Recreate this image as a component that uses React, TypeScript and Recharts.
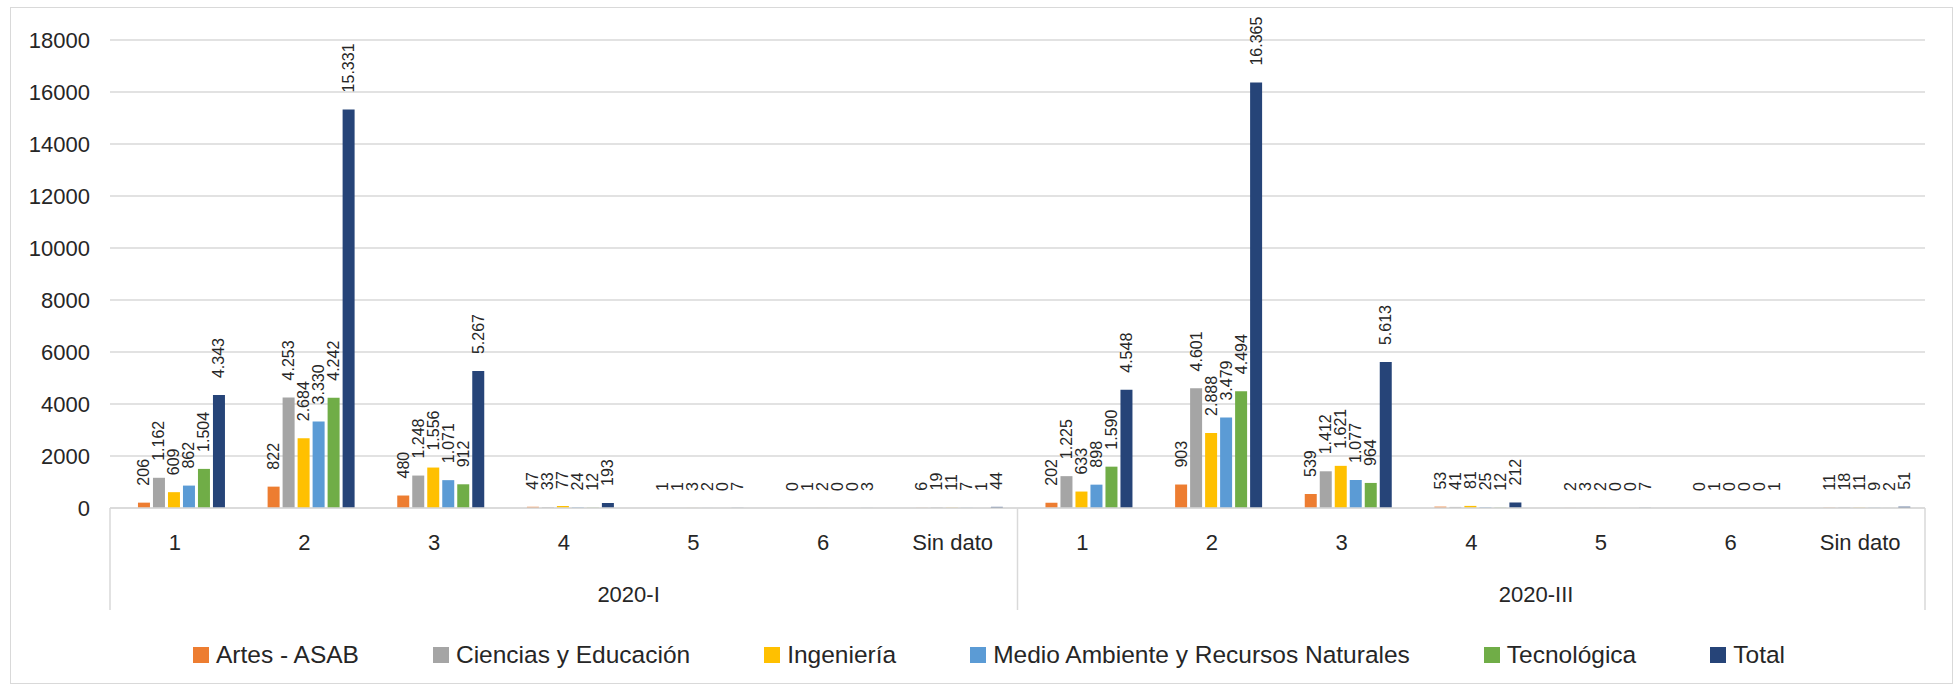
import React from "react";
import {
  BarChart,
  Bar,
  XAxis,
  YAxis,
  CartesianGrid,
  Legend,
  LabelList,
} from "recharts";

const categories = ["1", "2", "3", "4", "5", "6", "Sin dato"];
const periods = ["2020-I", "2020-III"];

// values per period: 2020-I first, then 2020-III
const artes = [206, 822, 480, 47, 1, 0, 6, 202, 903, 539, 53, 2, 0, 11];
const ciencias = [1162, 4253, 1248, 33, 1, 1, 19, 1225, 4601, 1412, 41, 3, 1, 18];
const ingenieria = [609, 2684, 1556, 77, 3, 2, 11, 633, 2888, 1621, 81, 2, 0, 11];
const medio = [862, 3330, 1071, 24, 2, 0, 7, 898, 3479, 1077, 25, 0, 0, 9];
const tecnologica = [1504, 4242, 912, 12, 0, 0, 1, 1590, 4494, 964, 12, 0, 0, 2];
const total = [4343, 15331, 5267, 193, 7, 3, 44, 4548, 16365, 5613, 212, 7, 1, 51];

const yTicks = [0, 2000, 4000, 6000, 8000, 10000, 12000, 14000, 16000, 18000];

const rows = periods.flatMap((period, pi) =>
  categories.map((cat, ci) => {
    const i = pi * categories.length + ci;
    return {
      cat,
      period,
      artes: artes[i],
      ciencias: ciencias[i],
      ingenieria: ingenieria[i],
      medio: medio[i],
      tecnologica: tecnologica[i],
      total: total[i],
    };
  })
);

const W = 1955;
const H = 686;
const FONT = "'Liberation Sans', Arial, sans-serif";
const TEXT = "#262626";
const LINE = "#D9D9D9";
const PLOT_W = 1925 - 110;
const BAND = PLOT_W / rows.length;

const fmt = (v: number) => String(v).replace(/\B(?=(\d{3})+(?!\d))/g, ".");

// keep zero bars in the rect list so their "0" label is drawn
const keepZero = (value: any) => (value === 0 ? 0.001 : 0);

const ValueLabel = (props: any) => {
  const { x, y, width, value } = props;
  if (value == null) return null;
  const cx = Number(x) + Number(width) / 2;
  const ty = Number(y) - 17;
  return (
    <text
      x={cx}
      y={ty}
      transform={`rotate(-90 ${cx} ${ty})`}
      textAnchor="start"
      dominantBaseline="central"
      fontSize={16}
      fill={TEXT}
    >
      {fmt(value)}
    </text>
  );
};

const CategoryTick = (props: any) => {
  const { x, y, payload, index } = props;
  const half = BAND / 2;
  const top = y - 8;
  return (
    <g>
      <text
        x={x}
        y={top + 34}
        textAnchor="middle"
        dominantBaseline="central"
        fontSize={22}
        fill={TEXT}
      >
        {payload.value}
      </text>
      {index % categories.length === 0 && (
        <line x1={x - half} x2={x - half} y1={top} y2={top + 102} stroke={LINE} strokeWidth={1.5} />
      )}
      {index === rows.length - 1 && (
        <line x1={x + half} x2={x + half} y1={top} y2={top + 102} stroke={LINE} strokeWidth={1.5} />
      )}
    </g>
  );
};

const PeriodTick = (props: any) => {
  const { x, y, payload, index } = props;
  if (index % categories.length !== 3) return null;
  return (
    <text
      x={x + BAND / 2}
      y={y + 18}
      textAnchor="middle"
      dominantBaseline="central"
      fontSize={22}
      fill={TEXT}
    >
      {payload.value}
    </text>
  );
};

const LegendContent = (props: any) => {
  const items = (props.payload || []).filter((p: any) => p.type !== "none");
  return (
    <div
      style={{
        display: "flex",
        justifyContent: "center",
        gap: 74,
        fontFamily: FONT,
        fontSize: 24.5,
        color: TEXT,
        lineHeight: "30px",
        paddingLeft: 23,
      }}
    >
      {items.map((p: any) => (
        <div key={p.value} style={{ display: "flex", alignItems: "center" }}>
          <span
            style={{
              display: "inline-block",
              width: 16,
              height: 16,
              background: p.color,
              marginRight: 7,
            }}
          />
          <span>{p.value}</span>
        </div>
      ))}
    </div>
  );
};

export default function App() {
  return (
    <div style={{ position: "relative", width: W, height: H, background: "#fff" }}>
      <style>{`body{margin:0;}`}</style>
      <div
        style={{
          position: "absolute",
          left: 10,
          top: 7,
          width: 1941,
          height: 675,
          border: `1.5px solid ${LINE}`,
        }}
      />
      <div style={{ position: "absolute", left: 0, top: 0 }}>
        <BarChart
          width={W}
          height={H}
          data={rows}
          margin={{ top: 40, right: 30, bottom: 68, left: 30 }}
          barCategoryGap="10%"
          barGap={3}
          style={{ fontFamily: FONT }}
        >
          <CartesianGrid vertical={false} stroke={LINE} strokeWidth={1.5} />
          <XAxis
            dataKey="cat"
            xAxisId={0}
            height={60}
            interval={0}
            tickLine={false}
            axisLine={{ stroke: LINE, strokeWidth: 1.5 }}
            tick={<CategoryTick />}
          />
          <XAxis
            dataKey="period"
            xAxisId="period"
            height={50}
            interval={0}
            tickLine={false}
            axisLine={false}
            tick={<PeriodTick />}
          />
          <YAxis
            width={80}
            domain={[0, 18000]}
            ticks={yTicks}
            interval={0}
            tickLine={false}
            axisLine={false}
            tickMargin={14}
            tick={{ fontSize: 22, fill: TEXT }}
          />
          <Legend
            verticalAlign="middle"
            align="center"
            layout="horizontal"
            wrapperStyle={{ top: 640, left: 0, width: W }}
            content={<LegendContent />}
          />
          {/* empty first slot, as in the source chart */}
          <Bar dataKey="blank" xAxisId={0} legendType="none" isAnimationActive={false} />
          <Bar dataKey="artes" name="Artes - ASAB" xAxisId={0} fill="#ED7D31" minPointSize={keepZero} isAnimationActive={false}>
            <LabelList dataKey="artes" content={<ValueLabel />} />
          </Bar>
          <Bar dataKey="ciencias" name="Ciencias y Educación" xAxisId={0} fill="#A5A5A5" minPointSize={keepZero} isAnimationActive={false}>
            <LabelList dataKey="ciencias" content={<ValueLabel />} />
          </Bar>
          <Bar dataKey="ingenieria" name="Ingeniería" xAxisId={0} fill="#FFC000" minPointSize={keepZero} isAnimationActive={false}>
            <LabelList dataKey="ingenieria" content={<ValueLabel />} />
          </Bar>
          <Bar dataKey="medio" name="Medio Ambiente y Recursos Naturales" xAxisId={0} fill="#5B9BD5" minPointSize={keepZero} isAnimationActive={false}>
            <LabelList dataKey="medio" content={<ValueLabel />} />
          </Bar>
          <Bar dataKey="tecnologica" name="Tecnológica" xAxisId={0} fill="#70AD47" minPointSize={keepZero} isAnimationActive={false}>
            <LabelList dataKey="tecnologica" content={<ValueLabel />} />
          </Bar>
          <Bar dataKey="total" name="Total" xAxisId={0} fill="#264478" minPointSize={keepZero} isAnimationActive={false}>
            <LabelList dataKey="total" content={<ValueLabel />} />
          </Bar>
        </BarChart>
      </div>
    </div>
  );
}
